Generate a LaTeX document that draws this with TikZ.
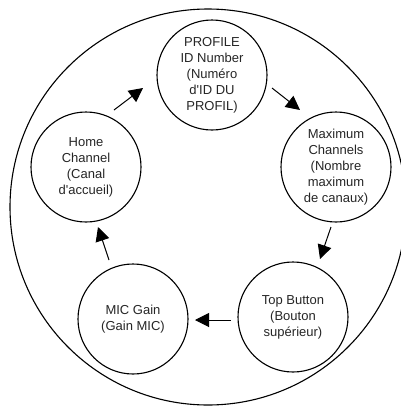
\documentclass[tikz,border=0pt]{standalone}
\usepackage{fontspec}
\setmainfont{Liberation Sans}
\usetikzlibrary{arrows.meta}
\begin{document}
\begin{tikzpicture}[x=1pt,y=-1pt,
  stage/.style={circle,draw=black,line width=1.1pt,minimum size=110pt,inner sep=0pt,
    align=center,font=\fontsize{13}{16}\selectfont,text=black!85},
  arr/.style={line width=1pt,-{Triangle[length=14pt,width=14pt]}}]
\clip (0,0) rectangle (401,408);
\useasboundingbox (0,0) rectangle (401,408);
\fill[white] (0,0) rectangle (401,408);
\node[circle,draw=black,line width=1.1pt,minimum size=396pt,inner sep=0pt] (outer) at (208,207) {};
\node[stage] (profile) at (212,75) {PROFILE\\ID Number\\(Numéro\\d\textquotesingle ID DU\\PROFIL)};
\node[stage] (maxch) at (336,167) {Maximum\\Channels\\(Nombre\\maximum\\de canaux)};
\node[stage] (top) at (293,317) {Top Button\\(Bouton\\supérieur)};
\node[stage] (mic) at (133,319) {MIC Gain\\(Gain MIC)};
\node[stage] (home) at (86,167) {Home\\Channel\\(Canal\\d\textquotesingle accueil)};
\coordinate (a1s) at (114,110); \coordinate (a1e) at (143,88);
\coordinate (a2s) at (272,88);  \coordinate (a2e) at (300,110);
\coordinate (a3s) at (331,227); \coordinate (a3e) at (320,259);
\coordinate (a4s) at (231,320); \coordinate (a4e) at (195,320);
\coordinate (a5s) at (109,260); \coordinate (a5e) at (98,227);
\draw[arr] (a1s) -- (a1e);
\draw[arr] (a2s) -- (a2e);
\draw[arr] (a3s) -- (a3e);
\draw[arr] (a4s) -- (a4e);
\draw[arr] (a5s) -- (a5e);
\end{tikzpicture}
\end{document}
